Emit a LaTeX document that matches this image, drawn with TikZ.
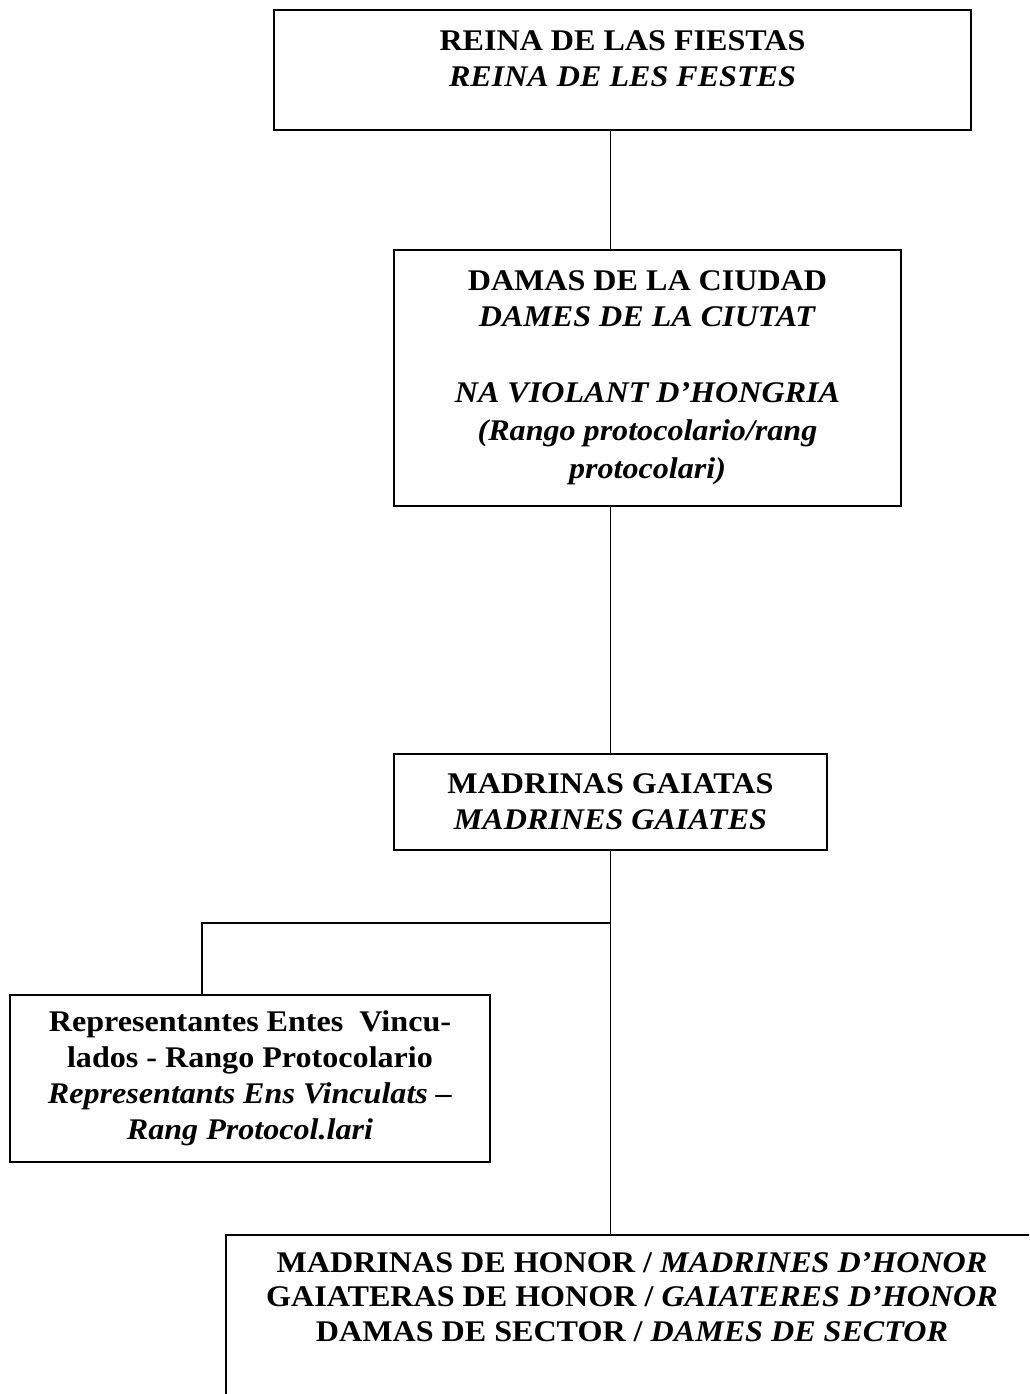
\documentclass[tikz,border=0pt]{standalone}
\usepackage{fontspec}
\setmainfont[FakeStretch=1.07]{Liberation Serif}
\usetikzlibrary{calc}

\tikzset{caja/.style={draw, line width=.6pt, align=center, inner sep=0pt, font=\fontsize{12}{14.4}\selectfont}}
\tikzset{linea/.style={line width=.6pt}}

\begin{document}
\begin{tikzpicture}[x=.4pt, y=-.4pt]
\useasboundingbox (0,0) rectangle (1029,1394);
\clip (0,0) rectangle (1029,1394);
\node[caja, minimum width=278.8pt, minimum height=48pt, text depth=9.5pt] (reina) at (622.5,70) {\textbf{REINA DE LAS FIESTAS}\\\textbf{\textit{REINA DE LES FESTES}}};
\node[caja, minimum width=202.8pt, minimum height=102.4pt] (damas) at (647.5,378) {\textbf{DAMAS DE LA CIUDAD}\\\textbf{\textit{DAMES DE LA CIUTAT}}\\[16pt]\textbf{\textit{NA VIOLANT D’HONGRIA}}\\[.8pt]\textbf{\textit{(Rango protocolario/rang}}\\[.8pt]\textbf{\textit{protocolari)}}};
\node[caja, minimum width=173.2pt, minimum height=38.4pt] (madr) at (610.5,802) {\textbf{MADRINAS GAIATAS}\\\textbf{\textit{MADRINES GAIATES}}};
\node[caja, minimum width=192pt, minimum height=66.8pt] (rep) at (250,1078.5) {\textbf{Representantes Entes\ \ Vincu-}\\\textbf{lados - Rango Protocolario}\\\textbf{\textit{Representants Ens Vinculats –}}\\\textbf{\textit{Rang Protocol.lari}}};
\node[caja, minimum width=324.8pt, minimum height=84pt, text depth=34.7pt, font=\fontsize{12}{13.8}\selectfont] (honor) at (632,1340) {\textbf{MADRINAS DE HONOR / \textit{MADRINES D’HONOR}}\\\textbf{GAIATERAS DE HONOR / \textit{GAIATERES D’HONOR}}\\\textbf{DAMAS DE SECTOR / \textit{DAMES DE SECTOR}}};
\coordinate (fork) at (610,923);
\coordinate (repTop) at (202,995);
\draw[linea] (madr.north |- reina.south) -- (madr.north |- damas.north);
\draw[linea] (madr.north |- damas.south) -- (madr.north);
\draw[linea] (madr.south) -- (madr.south |- honor.north);
\draw[linea] (fork) -| (repTop);
\end{tikzpicture}
\end{document}
